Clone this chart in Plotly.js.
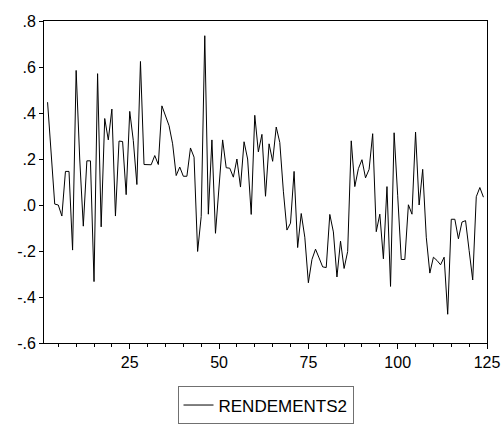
<!DOCTYPE html>
<html>
<head>
<meta charset="utf-8">
<script src="https://cdn.plot.ly/plotly-3.0.1.min.js"></script>
<style>html,body{margin:0;padding:0;background:#fff;}#chart{width:504px;height:437px;}</style>
</head>
<body>
<div id="chart"></div>
<script>
const seriesName = "RENDEMENTS2";
const firstObs = 2;
const rendements2 = [
  0.447, 0.22, 0.004, 0.0, -0.048, 0.146, 0.146, -0.196, 0.585, 0.2,
  -0.092, 0.192, 0.192, -0.333, 0.571, -0.095, 0.376, 0.283, 0.417, -0.048,
  0.278, 0.276, 0.045, 0.407, 0.28, 0.089, 0.624, 0.176, 0.175, 0.175,
  0.215, 0.176, 0.431, 0.39, 0.345, 0.266, 0.128, 0.165, 0.125, 0.125,
  0.248, 0.208, -0.202, -0.05, 0.736, -0.04, 0.283, -0.123, 0.07, 0.283,
  0.162, 0.16, 0.121, 0.2, 0.078, 0.275, 0.2, -0.041, 0.39, 0.231,
  0.307, 0.038, 0.266, 0.19, 0.339, 0.272, 0.06, -0.109, -0.079, 0.146,
  -0.185, -0.037, -0.14, -0.338, -0.237, -0.192, -0.23, -0.269, -0.272, -0.041,
  -0.117, -0.313, -0.157, -0.276, -0.202, 0.279, 0.08, 0.158, 0.197, 0.118,
  0.155, 0.31, -0.116, -0.04, -0.234, 0.08, -0.354, 0.314, 0.04, -0.237,
  -0.237, 0.001, -0.04, 0.317, 0.0, 0.155, -0.14, -0.296, -0.227, -0.241,
  -0.26, -0.227, -0.475, -0.062, -0.062, -0.147, -0.074, -0.068, -0.198, -0.326,
  0.036, 0.076, 0.034
];
const xTickVals = [25, 50, 75, 100, 125];
const yTickVals = [-0.6, -0.4, -0.2, 0.0, 0.2, 0.4, 0.6, 0.8];
const yTickText = ["-.6", "-.4", "-.2", ".0", ".2", ".4", ".6", ".8"];

const obs = rendements2.map((_, i) => firstObs + i);
const font = {family: "Liberation Sans, Arial, sans-serif", size: 16, color: "#000"};
const legendFont = {family: "Liberation Sans, Arial, sans-serif", size: 17, color: "#000"};

Plotly.newPlot("chart", [{
  type: "scatter", mode: "lines", name: seriesName,
  x: obs, y: rendements2,
  line: {color: "#000", width: 1}
}], {
  width: 504, height: 437,
  margin: {l: 44, r: 17, t: 21, b: 77},
  paper_bgcolor: "#fff", plot_bgcolor: "#fff",
  font: font,
  showlegend: true,
  legend: {orientation: "h", x: 0.5, xanchor: "center", y: -0.135, yanchor: "top",
    bordercolor: "#707070", borderwidth: 1, font: legendFont},
  xaxis: {range: [1, 125], tickvals: xTickVals, ticks: "outside", ticklen: 5, tickcolor: "#000",
    minor: {dtick: 5, tick0: 0, ticks: "outside", ticklen: 3, tickcolor: "#000"},
    showline: true, mirror: true, linecolor: "#000", linewidth: 1,
    showgrid: false, zeroline: false, tickfont: font},
  yaxis: {range: [-0.6, 0.8], tickvals: yTickVals, ticktext: yTickText, ticks: "outside", ticklen: 4,
    tickcolor: "#000", showline: true, mirror: true, linecolor: "#000", linewidth: 1,
    showgrid: false, zeroline: false, tickfont: font}
}, {displayModeBar: false, staticPlot: true});
</script>
</body>
</html>
